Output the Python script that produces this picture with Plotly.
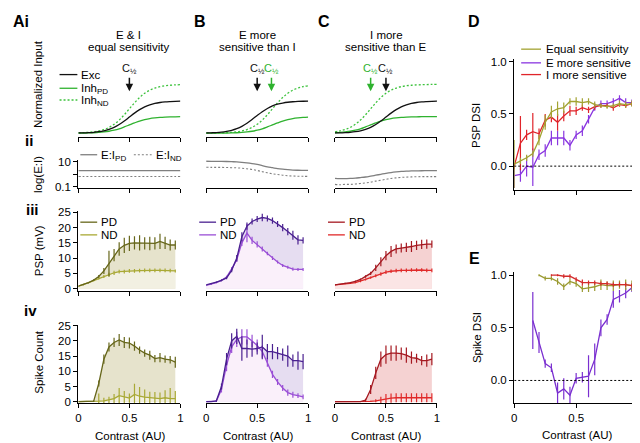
import plotly.graph_objects as go

W, H = 640, 443
FONT = "Arial, Liberation Sans, sans-serif"

# ---------------- data ----------------
contrast = [0, 0.05, 0.1, 0.15, 0.2, 0.25, 0.3, 0.35, 0.4, 0.45,
            0.5, 0.55, 0.6, 0.65, 0.7, 0.75, 0.8, 0.85, 0.9, 0.95]
model_c = [0, 0.05, 0.1, 0.15, 0.2, 0.25, 0.3, 0.35, 0.4, 0.45, 0.5,
           0.55, 0.6, 0.65, 0.7, 0.75, 0.8, 0.85, 0.9, 0.95, 1.0]

# Row i: normalized input
A_exc = [0.005, 0.007, 0.012, 0.019, 0.031, 0.05, 0.079, 0.12, 0.178, 0.249, 0.33,
         0.411, 0.482, 0.54, 0.581, 0.61, 0.629, 0.641, 0.648, 0.653, 0.655]
A_inh_pd = [0.002, 0.004, 0.006, 0.01, 0.016, 0.026, 0.04, 0.062, 0.091, 0.129, 0.17,
            0.211, 0.249, 0.278, 0.3, 0.314, 0.324, 0.33, 0.334, 0.336, 0.338]
A_inh_nd = [0.007, 0.011, 0.018, 0.029, 0.047, 0.076, 0.119, 0.182, 0.269, 0.378, 0.5,
            0.622, 0.731, 0.818, 0.881, 0.924, 0.953, 0.971, 0.982, 0.989, 0.993]
B_exc = [0.005, 0.009, 0.014, 0.023, 0.038, 0.06, 0.094, 0.141, 0.205, 0.281, 0.363,
         0.441, 0.507, 0.558, 0.594, 0.618, 0.634, 0.644, 0.65, 0.654, 0.656]
B_inh_pd = [0.0005, 0.0008, 0.0014, 0.0023, 0.0037, 0.0061, 0.0099, 0.016, 0.026, 0.04, 0.062,
            0.091, 0.129, 0.17, 0.211, 0.249, 0.278, 0.3, 0.314, 0.324, 0.33]
B_inh_nd = [0.0015, 0.0025, 0.0041, 0.0067, 0.011, 0.018, 0.029, 0.047, 0.076, 0.119, 0.182,
            0.269, 0.378, 0.5, 0.622, 0.731, 0.818, 0.881, 0.924, 0.953, 0.971]
C_exc = [0.005, 0.007, 0.012, 0.019, 0.031, 0.05, 0.079, 0.12, 0.178, 0.249, 0.33,
         0.411, 0.482, 0.54, 0.581, 0.61, 0.629, 0.641, 0.648, 0.653, 0.655]
C_inh_pd = [0.01, 0.016, 0.026, 0.04, 0.062, 0.091, 0.129, 0.17, 0.211, 0.249, 0.278,
            0.3, 0.314, 0.324, 0.33, 0.334, 0.336, 0.338, 0.339, 0.339, 0.339]
C_inh_nd = [0.029, 0.047, 0.076, 0.119, 0.182, 0.269, 0.378, 0.5, 0.622, 0.731, 0.818,
            0.881, 0.924, 0.953, 0.971, 0.982, 0.989, 0.993, 0.996, 0.998, 0.998]

# Row ii: E:I ratio
A_ei_pd = [1.94] * 21
A_ei_nd = [0.66] * 21
B_ei_pd = [10.6, 10.4, 10.4, 10.3, 10.1, 9.8, 9.5, 8.8, 7.9, 6.9, 5.9,
           4.8, 3.9, 3.3, 2.8, 2.5, 2.3, 2.15, 2.07, 2.02, 1.99]
B_ei_nd = [3.6, 3.5, 3.5, 3.5, 3.4, 3.3, 3.2, 3.0, 2.7, 2.4, 2.0,
           1.6, 1.3, 1.1, 0.96, 0.85, 0.77, 0.73, 0.70, 0.69, 0.68]
C_ei_pd = [0.47, 0.45, 0.46, 0.47, 0.50, 0.55, 0.61, 0.71, 0.84, 1.0, 1.19,
           1.37, 1.53, 1.67, 1.76, 1.83, 1.87, 1.90, 1.91, 1.92, 1.93]
C_ei_nd = [0.16, 0.15, 0.16, 0.16, 0.17, 0.19, 0.21, 0.24, 0.29, 0.34, 0.40,
           0.47, 0.52, 0.57, 0.60, 0.62, 0.64, 0.65, 0.65, 0.65, 0.66]

# Row iii: PSP (mV)
A_psp_pd = [0.8, 1.3, 2.0, 2.8, 4.0, 5.8, 8.2, 11.0, 13.0, 14.2, 14.8, 15.0, 15.0, 14.8, 14.8, 14.8, 15.5, 15.0, 14.3, 14.3]
A_psp_pd_err = [0.1, 0.2, 0.2, 0.3, 0.5, 1.0, 4.2, 2.0, 2.2, 2.5, 2.5, 2.2, 2.5, 2.0, 2.2, 2.0, 2.5, 2.0, 1.8, 1.5]
A_psp_nd = [0.8, 1.3, 2.0, 2.6, 3.3, 4.0, 4.6, 5.2, 5.6, 5.6, 5.8, 5.8, 5.9, 6.0, 6.0, 6.0, 6.0, 6.0, 5.9, 5.8]
A_psp_nd_err = [0.1, 0.2, 0.2, 0.2, 0.3, 0.5, 0.6, 0.7, 0.6, 0.6, 0.6, 0.6, 0.6, 0.6, 0.6, 0.6, 0.6, 0.6, 0.6, 0.5]
B_psp_pd = [1.2, 1.6, 2.1, 2.7, 3.5, 6.0, 10.0, 17.0, 20.5, 22.0, 22.8, 23.3, 23.0, 22.3, 21.2, 20.0, 18.7, 17.5, 16.0, 15.8]
B_psp_pd_err = [0.1, 0.2, 0.2, 0.3, 0.4, 0.6, 1.0, 1.5, 1.2, 1.0, 1.0, 1.2, 1.0, 1.0, 1.0, 1.2, 1.2, 1.5, 1.5, 1.0]
B_psp_nd = [1.1, 1.5, 2.0, 2.7, 3.8, 6.5, 9.5, 15.0, 18.2, 15.8, 14.5, 13.0, 11.5, 10.0, 8.7, 7.6, 7.0, 6.4, 6.3, 6.3]
B_psp_nd_err = [0.1, 0.2, 0.2, 0.3, 0.4, 0.6, 0.8, 1.0, 3.0, 1.2, 1.0, 0.8, 0.6, 0.6, 0.5, 0.5, 0.5, 0.5, 0.5, 0.5]
C_psp_pd = [1.2, 1.4, 1.7, 2.0, 2.4, 3.0, 4.0, 5.0, 6.8, 8.8, 10.8, 12.2, 13.0, 13.3, 13.5, 13.8, 14.2, 14.5, 14.6, 14.6]
C_psp_pd_err = [0.1, 0.1, 0.2, 0.2, 0.3, 0.3, 0.4, 0.5, 1.0, 1.5, 1.5, 1.8, 1.5, 1.5, 1.5, 1.8, 1.5, 1.5, 1.5, 1.2]
C_psp_nd = [1.2, 1.3, 1.5, 1.7, 2.0, 2.4, 3.0, 3.6, 4.2, 4.8, 5.4, 5.7, 5.9, 6.0, 6.0, 6.1, 6.1, 6.1, 6.0, 6.0]
C_psp_nd_err = [0.1, 0.1, 0.1, 0.2, 0.2, 0.3, 0.3, 0.4, 0.5, 0.6, 0.6, 0.6, 0.6, 0.6, 0.6, 0.6, 0.6, 0.6, 0.6, 0.6]

# Row iv: spike count
A_spk_pd = [0, 0, 0, 0.2, 6.0, 14.0, 18.0, 19.5, 20.3, 19.5, 19.3, 18.3, 17.0, 16.0, 15.3, 14.2, 14.5, 14.0, 13.8, 13.0]
A_spk_pd_err = [0, 0, 0, 0.2, 1.0, 1.5, 1.5, 1.5, 2.0, 1.8, 1.8, 1.5, 1.2, 1.2, 1.5, 1.2, 1.5, 1.2, 1.2, 1.8]
A_spk_nd = [0, 0, 0, 0, 0.2, 0.3, 0.6, 1.0, 2.0, 1.5, 1.2, 2.4, 1.8, 1.5, 1.3, 1.2, 1.0, 1.3, 1.0, 1.0]
A_spk_nd_err = [0, 0, 0, 0, 2.5, 1.0, 1.0, 1.5, 2.5, 2.0, 1.5, 3.5, 3.0, 2.5, 2.0, 2.0, 2.0, 2.5, 3.5, 2.5]
B_spk_pd = [0, 0, 0.3, 5.0, 14.0, 20.0, 21.5, 17.5, 17.5, 17.3, 17.5, 18.0, 16.5, 16.5, 16.0, 15.5, 15.0, 13.5, 13.5, 13.2]
B_spk_pd_err = [0, 0, 0.3, 1.0, 2.0, 2.5, 2.5, 4.0, 3.0, 2.5, 2.0, 4.0, 2.5, 2.5, 2.0, 2.0, 3.5, 2.0, 3.0, 2.5]
B_spk_nd = [0, 0, 0.2, 4.0, 12.0, 18.0, 20.5, 21.3, 21.3, 20.0, 18.5, 16.5, 13.0, 9.0, 6.5, 4.5, 3.0, 2.3, 2.0, 1.6]
B_spk_nd_err = [0, 0, 0.2, 1.0, 2.0, 2.0, 2.5, 2.5, 2.5, 2.0, 2.0, 2.0, 1.5, 1.2, 1.0, 1.0, 1.0, 1.0, 0.8, 0.8]
C_spk_pd = [0, 0, 0, 0, 0, 0, 0.5, 4.0, 9.5, 14.0, 15.5, 16.0, 16.0, 15.8, 15.3, 14.5, 14.3, 13.5, 13.5, 14.0]
C_spk_pd_err = [0, 0, 0, 0, 0, 0, 0.5, 1.5, 2.0, 2.5, 3.0, 2.5, 2.5, 2.0, 2.5, 2.0, 1.5, 1.5, 2.0, 2.0]
C_spk_nd = [0, 0, 0, 0, 0, 0, 0, 0.1, 0.3, 0.6, 1.0, 1.2, 1.3, 1.3, 1.3, 1.3, 1.3, 1.3, 1.3, 1.3]
C_spk_nd_err = [0, 0, 0, 0, 0, 0, 0, 0.2, 0.5, 1.0, 1.5, 1.5, 1.5, 1.5, 1.5, 1.5, 1.5, 1.5, 1.5, 1.5]

# D: PSP DSI
D_equal = [0.02, 0.05, 0.08, 0.12, 0.25, 0.42, 0.52, 0.55, 0.56, 0.62, 0.62, 0.61, 0.62, 0.59, 0.58, 0.57, 0.58, 0.60, 0.59, 0.60]
D_equal_err = [0.23, 0.03, 0.03, 0.03, 0.05, 0.07, 0.06, 0.07, 0.05, 0.03, 0.04, 0.04, 0.03, 0.03, 0.02, 0.02, 0.02, 0.03, 0.03, 0.03]
D_emore = [-0.09, -0.08, 0.0, -0.01, 0.11, 0.15, 0.27, 0.27, 0.27, 0.20, 0.30, 0.34, 0.45, 0.56, 0.60, 0.60, 0.62, 0.65, 0.61, 0.61]
D_emore_err = [0.12, 0.07, 0.1, 0.18, 0.05, 0.06, 0.07, 0.07, 0.07, 0.05, 0.04, 0.05, 0.04, 0.03, 0.03, 0.03, 0.03, 0.03, 0.04, 0.03]
D_imore = [0.0, 0.22, 0.30, 0.33, 0.31, 0.44, 0.47, 0.42, 0.48, 0.53, 0.53, 0.56, 0.54, 0.57, 0.58, 0.58, 0.56, 0.59, 0.58, 0.60]
D_imore_err = [0.03, 0.26, 0.05, 0.18, 0.05, 0.06, 0.05, 0.08, 0.05, 0.05, 0.04, 0.03, 0.03, 0.03, 0.02, 0.02, 0.03, 0.02, 0.02, 0.02]

# E: Spike DSI
E_equal = [None, None, None, None, 1.0, 0.97, 0.97, 0.94, 0.89, 0.94, 0.92, 0.87, 0.88, 0.89, 0.91, 0.90, 0.90, 0.91, 0.91, 0.90]
E_equal_err = [0, 0, 0, 0, 0.01, 0.02, 0.02, 0.03, 0.03, 0.03, 0.03, 0.03, 0.04, 0.04, 0.05, 0.04, 0.05, 0.04, 0.05, 0.05]
E_emore = [None, None, None, 0.57, 0.36, 0.16, 0.12, -0.12, -0.08, -0.14, 0.02, 0.03, 0.04, 0.20, 0.50, 0.58, 0.77, 0.80, 0.83, 0.88]
E_emore_err = [0, 0, 0, 0.27, 0.10, 0.04, 0.04, 0.10, 0.10, 0.08, 0.05, 0.05, 0.20, 0.15, 0.08, 0.05, 0.08, 0.06, 0.05, 0.04]
E_imore = [None, None, None, None, None, None, 1.0, 1.0, 0.99, 0.99, 0.96, 0.93, 0.93, 0.93, 0.92, 0.92, 0.91, 0.91, 0.91, 0.90]
E_imore_err = [0, 0, 0, 0, 0, 0, 0.01, 0.01, 0.02, 0.02, 0.02, 0.03, 0.02, 0.02, 0.02, 0.02, 0.02, 0.02, 0.02, 0.02]

# ---------------- styles ----------------
GREEN = '#2fb22f'
GREEN_DOT = '#3cc23c'
GREY = '#7f7f7f'
DOT = '2px,2px'
COLS = {
    'A': dict(pd='#66661a', nd='#a9a935', fpd='#e6e3cc', fnd='#f2f0e2'),
    'B': dict(pd='#4a2090', nd='#9a4fd6', fpd='#e6ddf1', fnd='#faf0fa'),
    'C': dict(pd='#a51820', nd='#e02a2a', fpd='#f5d2d2', fnd='#fbe5e5'),
}
D_COL = dict(equal='#a3a332', emore='#8a36e0', imore='#e0242a')
LW = 1.3

fig = go.Figure()
axes = {}
layout_axes = {}


def make_axes(key, px0, px1, py0, py1, xr, yr, ylog=False, showx=True, xlabels=False,
              showy=True, yticks=None, yticktext=None):
    n = len(axes) + 1
    s = '' if n == 1 else str(n)
    axes[key] = ('x' + s, 'y' + s)
    common = dict(showgrid=False, zeroline=False, showline=True, linecolor='black',
                  linewidth=1.3, ticks='outside', ticklen=4, tickwidth=1.3, tickcolor='black',
                  tickfont=dict(size=11.5, family=FONT, color='black'))
    layout_axes['xaxis' + s] = dict(domain=[px0 / W, px1 / W], range=xr, anchor='y' + s,
                                    tickvals=[0, 0.5, 1], ticktext=['0', '0.5', '1'],
                                    showticklabels=xlabels, visible=showx, **common)
    yd = dict(domain=[1 - py1 / H, 1 - py0 / H], range=yr, anchor='x' + s, visible=showy, **common)
    if ylog:
        yd['type'] = 'log'
    if yticks is not None:
        yd['tickvals'] = yticks
        yd['ticktext'] = yticktext
    layout_axes['yaxis' + s] = yd


colx = {'A': (68, 171), 'B': (197, 300), 'C': (327, 430)}
for c in 'ABC':
    x0, x1 = colx[c]
    make_axes(c + 'i', x0, x1, 45, 127, [0, 1], [-0.08, 1.56], showy=False)
    make_axes(c + 'ii', x0, x1, 150, 179, [0, 1], [-1.077, 1.154], ylog=True, showy=(c == 'A'),
              yticks=[0.1, 1, 10], yticktext=['0.1', '', '10'])
    make_axes(c + 'iii', x0, x1, 203, 284, [0, 1], [-0.64, 25.3], showy=(c == 'A'),
              yticks=[0, 5, 10, 15, 20, 25], yticktext=['0', '5', '10', '15', '20', '25'])
    make_axes(c + 'iv', x0, x1, 319, 399, [0, 1], [-0.42, 25.3], showy=(c == 'A'), xlabels=True,
              yticks=[0, 5, 10, 15, 20, 25], yticktext=['0', '5', '10', '15', '20', '25'])
make_axes('D', 508, 633, 47, 181, [0, 1], [-0.228, 1.028],
          yticks=[0, 0.5, 1], yticktext=['0.0', '0.5', '1.0'])
make_axes('E', 508, 633, 265, 399, [0, 1], [-0.214, 1.03], xlabels=True,
          yticks=[0, 0.5, 1], yticktext=['0.0', '0.5', '1.0'])


def line(key, x, y, color, dash=None, err=None, shape='linear', width=LW):
    xr, yr = axes[key]
    tr = go.Scatter(x=x, y=y, xaxis=xr, yaxis=yr, mode='lines',
                    line=dict(color=color, width=width, dash=dash, shape=shape),
                    hoverinfo='skip', connectgaps=False)
    if err is not None:
        tr.error_y = dict(type='data', array=err, visible=True, color=color, thickness=1.2, width=0)
    fig.add_trace(tr)


def fill(key, x, y, color):
    xr, yr = axes[key]
    fig.add_trace(go.Scatter(x=x, y=y, xaxis=xr, yaxis=yr, mode='lines', fill='tozeroy',
                             fillcolor=color, line=dict(width=0, color=color), hoverinfo='skip'))


# Row i & ii
row_i = {'A': (A_exc, A_inh_pd, A_inh_nd), 'B': (B_exc, B_inh_pd, B_inh_nd), 'C': (C_exc, C_inh_pd, C_inh_nd)}
row_ii = {'A': (A_ei_pd, A_ei_nd), 'B': (B_ei_pd, B_ei_nd), 'C': (C_ei_pd, C_ei_nd)}
for c in 'ABC':
    exc, ipd, ind = row_i[c]
    line(c + 'i', model_c, ind, GREEN_DOT, dash=DOT, shape='spline', width=1.3)
    line(c + 'i', model_c, ipd, GREEN, shape='spline')
    line(c + 'i', model_c, exc, '#111111', shape='spline')
    epd, end = row_ii[c]
    line(c + 'ii', model_c, end, GREY, dash=DOT, shape='spline', width=1.1)
    line(c + 'ii', model_c, epd, GREY, shape='spline')

# Rows iii & iv
psp = {'A': (A_psp_pd, A_psp_pd_err, A_psp_nd, A_psp_nd_err),
       'B': (B_psp_pd, B_psp_pd_err, B_psp_nd, B_psp_nd_err),
       'C': (C_psp_pd, C_psp_pd_err, C_psp_nd, C_psp_nd_err)}
spk = {'A': (A_spk_pd, A_spk_pd_err, A_spk_nd, A_spk_nd_err),
       'B': (B_spk_pd, B_spk_pd_err, B_spk_nd, B_spk_nd_err),
       'C': (C_spk_pd, C_spk_pd_err, C_spk_nd, C_spk_nd_err)}
for c in 'ABC':
    col = COLS[c]
    for row, data in (('iii', psp[c]), ('iv', spk[c])):
        pd_, pde, nd_, nde = data
        fill(c + row, contrast, pd_, col['fpd'])
        fill(c + row, contrast, nd_, col['fnd'])
        line(c + row, contrast, nd_, col['nd'], err=nde)
        line(c + row, contrast, pd_, col['pd'], err=pde)

# D and E
line('D', contrast, D_emore, D_COL['emore'], err=D_emore_err)
line('D', contrast, D_imore, D_COL['imore'], err=D_imore_err)
line('D', contrast, D_equal, D_COL['equal'], err=D_equal_err)
line('E', contrast, E_emore, '#7a2fd0', err=E_emore_err)
line('E', contrast, E_equal, '#9a9a30', err=E_equal_err)
line('E', contrast, E_imore, '#d42a2a', err=E_imore_err)

shapes = []
annotations = []
for key in ('D', 'E'):
    xr, yr = axes[key]
    shapes.append(dict(type='line', xref=xr, yref=yr, x0=0, x1=1, y0=0, y1=0,
                       line=dict(color='black', width=1, dash=DOT)))


def ptext(text, px, py, size=11.5, bold=False, anchor='center', color='black', angle=0):
    if bold:
        text = '<b>' + text + '</b>'
    annotations.append(dict(x=px / W, y=1 - py / H, xref='paper', yref='paper', text=text,
                            showarrow=False, xanchor=anchor, yanchor='middle', textangle=angle,
                            font=dict(size=size, family=FONT, color=color)))


def pline(px0, px1, py, color, dash=None, width=LW):
    shapes.append(dict(type='line', xref='paper', yref='paper', x0=px0 / W, x1=px1 / W,
                       y0=1 - py / H, y1=1 - py / H, line=dict(color=color, width=width, dash=dash)))


# Panel letters
ptext('Ai', 10, 9, size=16, bold=True)
ptext('B', 191, 9, size=16, bold=True)
ptext('C', 316, 9, size=16, bold=True)
ptext('D', 467, 9, size=16, bold=True)
ptext('E', 468, 251, size=16, bold=True)
ptext('ii', 18, 130, size=15, bold=True)
ptext('iii', 22, 201, size=15, bold=True)
ptext('iv', 20, 304, size=15, bold=True)

# Column titles
ptext('E &amp; I', 119, 23)
ptext('equal sensitivity', 119, 35)
ptext('E more', 249, 23)
ptext('sensitive than I', 249, 35)
ptext('I more', 379, 23)
ptext('sensitive than E', 379, 35)

# Axis titles
ptext('Normalized Input', 28, 73, angle=-90)
ptext('log(E:I)', 28, 165, angle=-90)
ptext('PSP (mV)', 28, 243, angle=-90)
ptext('Spike Count', 28, 357, angle=-90)
ptext('PSP DSI', 470, 115, angle=-90)
ptext('Spike DSI', 470, 332, angle=-90)
for cx in (120, 249, 379):
    ptext('Contrast (AU)', cx, 433)
ptext('Contrast (AU)', 571, 432)

# Legends row i
pline(49, 67, 63, '#111111')
ptext('Exc', 69, 63, anchor='left')
pline(49, 67, 77, GREEN)
ptext('Inh<sub>PD</sub>', 69, 78, anchor='left')
pline(49, 67, 89, GREEN_DOT, dash=DOT)
ptext('Inh<sub>ND</sub>', 69, 90, anchor='left')

# Legends row ii
pline(70, 87, 145, GREY)
ptext('E:I<sub>PD</sub>', 89, 146, anchor='left')
pline(124, 142, 145, GREY, dash=DOT, width=1.1)
ptext('E:I<sub>ND</sub>', 144, 146, anchor='left')

# Legends row iii
for c, lx in (('A', 70), ('B', 190), ('C', 320)):
    pline(lx, lx + 17, 214, COLS[c]['pd'])
    ptext('PD', lx + 19, 214, anchor='left')
    pline(lx, lx + 17, 227, COLS[c]['nd'])
    ptext('ND', lx + 19, 227, anchor='left')

# Legend D
for py, name, key in ((37, 'Equal sensitivity', 'equal'), (51, 'E more sensitive', 'emore'),
                      (63, 'I more sensitive', 'imore')):
    pline(515, 535, py, D_COL[key])
    ptext(name, 538, py, anchor='left')

# C1/2 arrows (data coords)
arrows = [('Ai', 0.5, '#111111'), ('Bi', 0.5, '#111111'), ('Bi', 0.64, GREEN),
          ('Ci', 0.35, GREEN), ('Ci', 0.5, '#111111')]
for key, cx, colr in arrows:
    xr, yr = axes[key]
    annotations.append(dict(x=cx, y=0.86, xref=xr, yref=yr, ax=0, ay=-22,
                            text='C<sub>½</sub>', showarrow=True, arrowhead=2, arrowsize=1,
                            arrowwidth=1.5, arrowcolor=colr,
                            font=dict(size=11, family=FONT, color=colr)))

fig.update_layout(width=W, height=H, margin=dict(l=0, r=0, t=0, b=0),
                  paper_bgcolor='white', plot_bgcolor='white', showlegend=False,
                  shapes=shapes, annotations=annotations, **layout_axes)

fig.write_html("out.html")
